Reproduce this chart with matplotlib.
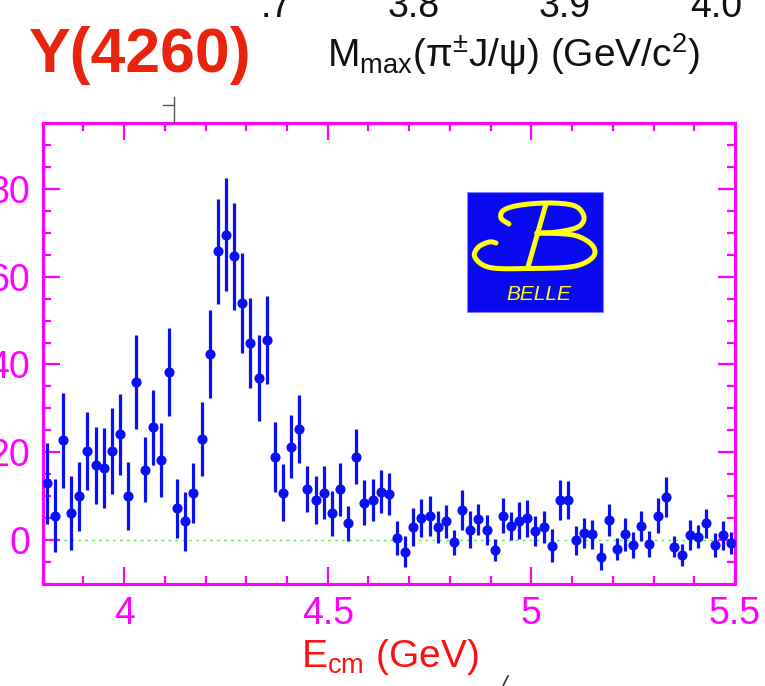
import numpy as np
import matplotlib
matplotlib.use("Agg")
import matplotlib.pyplot as plt
from matplotlib.patches import Rectangle
from matplotlib.lines import Line2D
from matplotlib.transforms import Affine2D

plt.rcParams['font.family'] = ['Liberation Sans', 'DejaVu Sans']
plt.rcParams['mathtext.fontset'] = 'custom'
plt.rcParams['mathtext.rm'] = 'Liberation Sans'
plt.rcParams['mathtext.it'] = 'Liberation Sans:italic'

# ---- data (bin centres in GeV, events per 20 MeV bin, errors) ----
energy = [3.81, 3.83, 3.85, 3.87, 3.89, 3.91, 3.93, 3.95, 3.97, 3.99,
          4.01, 4.03, 4.05, 4.07, 4.09, 4.11, 4.13, 4.15, 4.17, 4.19,
          4.21, 4.23, 4.25, 4.27, 4.29, 4.31, 4.33, 4.35, 4.37, 4.39,
          4.41, 4.43, 4.45, 4.47, 4.49, 4.51, 4.53, 4.55, 4.57, 4.59,
          4.61, 4.63, 4.65, 4.67, 4.69, 4.71, 4.73, 4.75, 4.77, 4.79,
          4.81, 4.83, 4.85, 4.87, 4.89, 4.91, 4.93, 4.95, 4.97, 4.99,
          5.01, 5.03, 5.05, 5.07, 5.09, 5.11, 5.13, 5.15, 5.17, 5.19,
          5.21, 5.23, 5.25, 5.27, 5.29, 5.31, 5.33, 5.35, 5.37, 5.39,
          5.41, 5.43, 5.45, 5.47, 5.49]
counts = [12.9, 5.6, 22.7, 6.2, 10.0, 20.3, 17.0, 16.4, 20.3, 24.1,
          10.0, 35.9, 16.0, 25.7, 18.3, 38.2, 7.2, 4.3, 10.7, 23.0,
          42.4, 65.8, 69.6, 64.6, 54.0, 44.9, 36.9, 45.6, 18.9, 10.8,
          21.3, 25.3, 11.6, 9.1, 10.8, 6.1, 11.6, 3.8, 19.0, 8.5,
          9.1, 11.0, 10.5, 0.5, -2.6, 3.0, 5.1, 5.5, 3.0, 4.3,
          -0.5, 6.8, 2.4, 4.7, 2.3, -2.3, 5.6, 3.3, 4.4, 5.0,
          2.1, 3.0, -1.3, 9.1, 9.1, 0.0, 1.7, 1.3, -3.8, 4.6,
          -2.1, 1.3, -1.1, 3.2, -0.9, 5.6, 9.8, -1.5, -3.4, 1.1,
          0.8, 3.8, -1.1, 1.1, -0.6]
errors = [9.2, 8.4, 10.8, 8.4, 7.9, 8.9, 8.8, 9.1, 9.7, 9.2,
          7.7, 10.7, 7.4, 8.6, 8.4, 10.0, 6.8, 6.7, 6.8, 8.4,
          10.0, 12.0, 12.8, 12.1, 11.3, 10.3, 9.7, 10.0, 7.9, 6.5,
          7.1, 7.7, 5.3, 5.4, 6.0, 5.1, 6.0, 3.9, 6.2, 5.1,
          4.8, 4.9, 4.8, 3.9, 3.6, 4.4, 4.3, 4.6, 3.6, 3.8,
          2.8, 4.6, 4.2, 3.6, 3.4, 2.5, 3.9, 3.2, 4.2, 4.2,
          3.5, 3.6, 3.8, 4.6, 4.3, 3.3, 3.4, 3.3, 3.1, 3.7,
          2.5, 3.7, 3.0, 3.4, 3.0, 4.0, 4.5, 2.4, 2.5, 3.4,
          2.6, 3.3, 2.7, 3.3, 2.5]

xticks = [4.0, 4.5, 5.0, 5.5]
xtick_labels = ['4', '4.5', '5', '5.5']
yticks = [0, 20, 40, 60, 80]
ytick_labels = ['0', '20', '40', '60', '80']
top_tick_labels = ['3.8', '3.9', '4.0']

W, H = 765, 686
fig = plt.figure(figsize=(W / 100, H / 100), dpi=100)
fig.patch.set_facecolor('white')

def fx(px):
    return px / W

def fy(py):
    return 1 - py / H

MAG = '#FF00FF'
ax = fig.add_axes([fx(42.7), fy(584), fx(735) - fx(42.7), fy(123) - fy(584)])
ax.set_xlim(3.8, 5.5)
ax.set_ylim(-10, 95)

ax.axhline(0, color='#55EE55', lw=1.0, ls=(0, (2, 3)), zorder=1)
ax.errorbar(energy, counts, yerr=errors, fmt='o', color='#0A10F5',
            ms=6.3, elinewidth=2.3, capsize=0, zorder=3)

for s in ax.spines.values():
    s.set_color(MAG)
    s.set_linewidth(2.2)

ax.set_xticks(xticks)
ax.set_xticklabels(xtick_labels)
ax.set_xticks(np.round(np.arange(3.8, 5.51, 0.1), 2), minor=True)
ax.set_yticks(yticks)
ax.set_yticklabels(ytick_labels)
ax.set_yticks(np.arange(-10, 96, 5), minor=True)
ax.tick_params(which='both', direction='in', colors=MAG, top=True, right=True,
               labelsize=27, width=1.6, pad=9)
ax.tick_params(which='major', length=12.5)
ax.tick_params(which='minor', length=6)
for lab in ax.get_xticklabels() + ax.get_yticklabels():
    lab.set_color(MAG)

# x-axis title
fig.text(fx(390), fy(667), r'E$_{\mathregular{cm}}$ (GeV)', color='#FF1010',
         fontsize=28, ha='center', va='baseline')

# ---- Belle logo (decoration, drawn in slide pixel coordinates) ----
pix = Affine2D().scale(1 / W, -1 / H).translate(0, 1) + fig.transFigure
ax.add_patch(Rectangle((0.613, 0.590), 0.196, 0.260, transform=ax.transAxes,
                       facecolor='#0A0AF2', edgecolor='#8080FF', lw=0.8, zorder=4))

def smooth(pts, n=12):
    p = np.asarray(pts, float)
    p = np.vstack([p[0], p, p[-1]])
    out = []
    for i in range(1, len(p) - 2):
        p0, p1, p2, p3 = p[i - 1], p[i], p[i + 1], p[i + 2]
        for t in np.linspace(0, 1, n, endpoint=False):
            out.append(0.5 * ((2 * p1) + (-p0 + p2) * t +
                              (2 * p0 - 5 * p1 + 4 * p2 - p3) * t ** 2 +
                              (-p0 + 3 * p1 - 3 * p2 + p3) * t ** 3))
    out.append(p[-2])
    return np.array(out)

YEL = '#FFFF10'
upper = [(509, 224), (501, 218), (504, 210), (521, 205), (550, 203),
         (575, 206), (584, 217), (578, 227), (557, 232), (537, 233)]
lower = [(537, 233), (573, 235), (592, 245), (593, 257), (573, 266.5),
         (528, 268.5), (490, 267.5), (475, 257.5), (478, 247.5), (489, 242),
         (496, 243)]
stem = [(546, 204), (528, 267)]
for seg in (upper, lower, stem):
    s = smooth(seg) if len(seg) > 2 else np.asarray(seg, float)
    ax.add_artist(Line2D(s[:, 0], s[:, 1], transform=pix, color=YEL, lw=3.6,
                         solid_capstyle='round', zorder=5))
ax.text(0.717, 0.616, 'BELLE', transform=ax.transAxes, color=YEL,
        fontsize=15, style='italic', ha='center', va='baseline', zorder=5)

# ---- upper slide content (title and the cropped neighbouring plot) ----
fig.text(fx(29), fy(72), 'Y(4260)', color='#E8240F', fontsize=45,
         fontweight='bold', ha='left', va='baseline')
fig.text(fx(327), fy(67),
         r'M$_{\mathregular{max}}$(π$^{\mathregular{\pm}}$J/ψ) (GeV/c$^{\mathregular{2}}$)',
         color='#111111', fontsize=28, ha='left', va='baseline')
for lab, cx in zip(top_tick_labels, [414, 565, 716]):
    fig.text(fx(cx), fy(17), lab, color='#111111', fontsize=27,
             ha='center', va='baseline')
fig.text(fx(261), fy(17), '.7', color='#111111', fontsize=27,
         ha='left', va='baseline')
fig.add_artist(Line2D([fx(174), fx(174)], [fy(97), fy(122)], color='#555555', lw=1.0))
fig.add_artist(Line2D([fx(163), fx(174)], [fy(105), fy(105)], color='#555555', lw=1.0))
fig.add_artist(Line2D([fx(503), fx(508)], [fy(686), fy(676)], color='#333333', lw=1.2))

fig.savefig('out.png', dpi=100, facecolor='white')
